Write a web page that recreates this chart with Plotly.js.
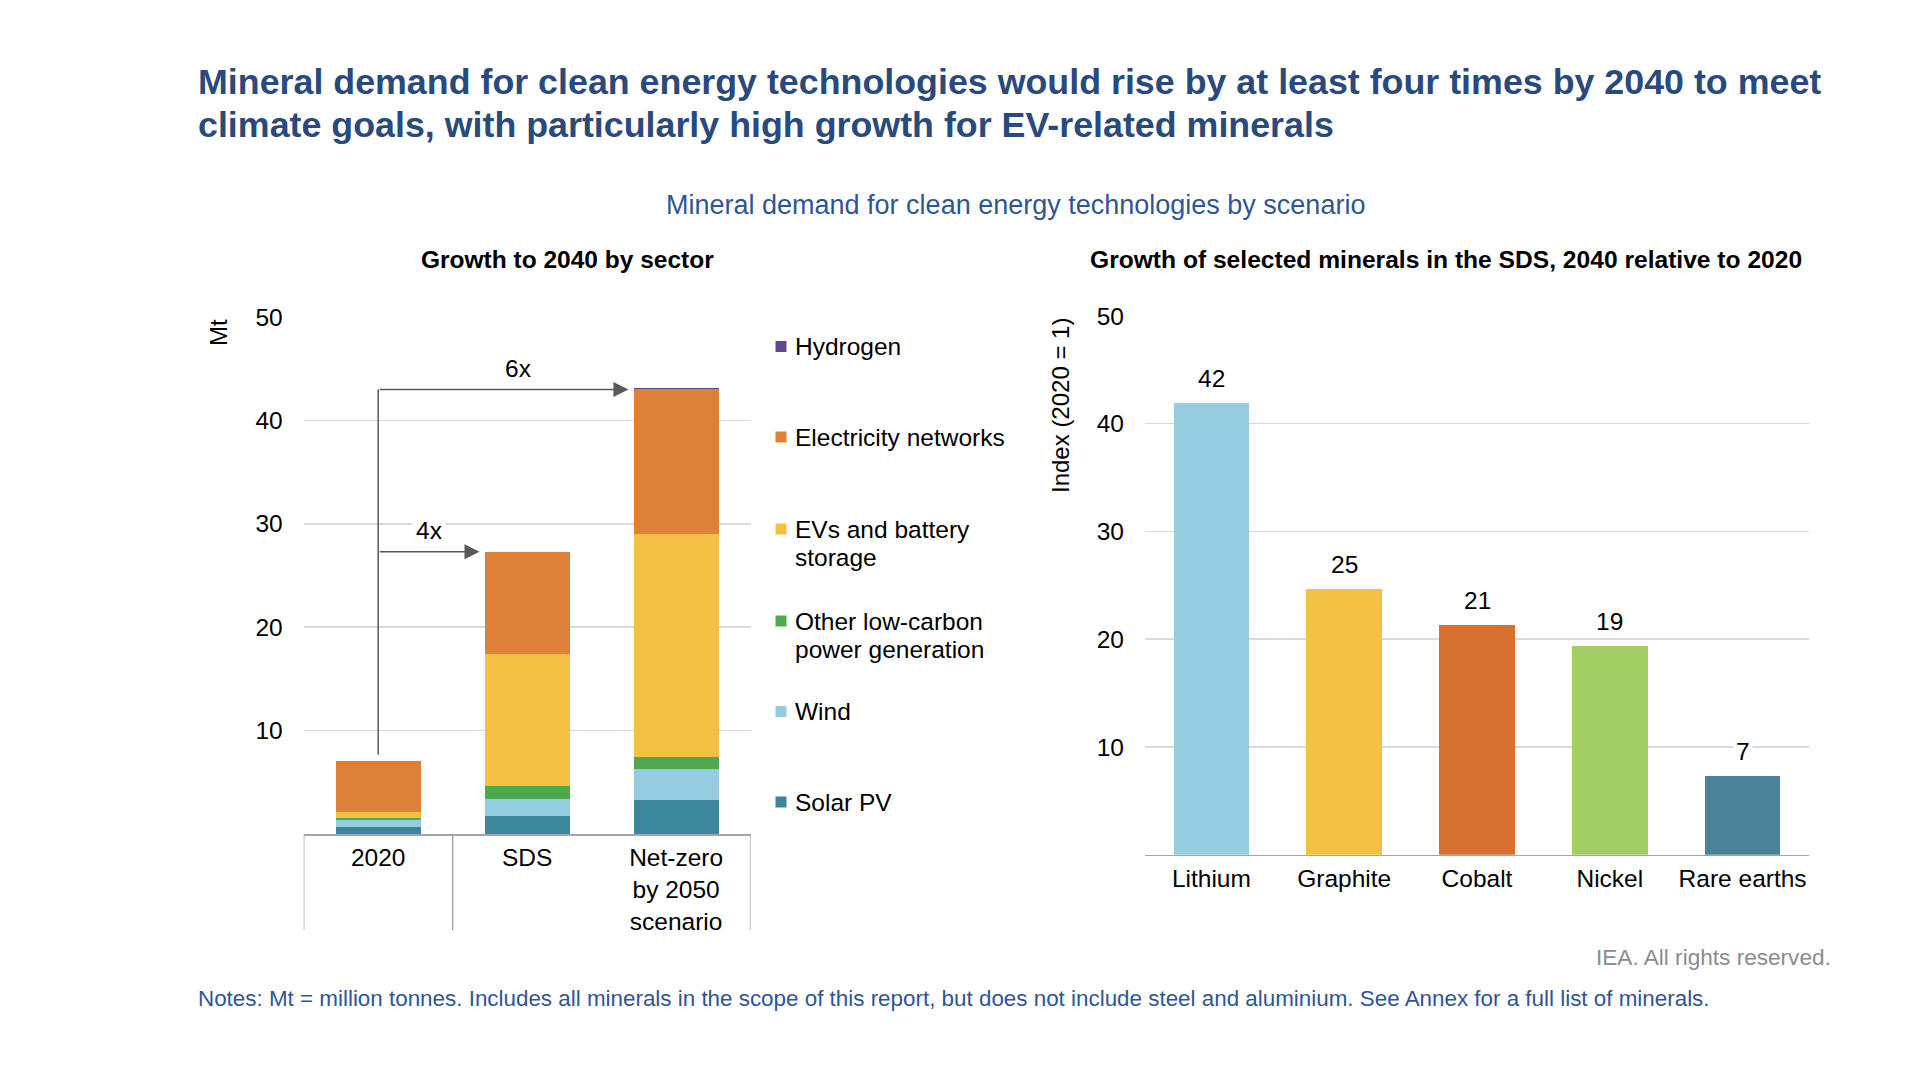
<!DOCTYPE html>
<html>
<head>
<meta charset="utf-8">
<script src="https://cdn.plot.ly/plotly-3.0.1.min.js"></script>
<style>html,body{margin:0;padding:0;background:#fff;}#chart{width:1920px;height:1080px;}</style>
</head>
<body>
<div id="chart"></div>
<script>
// ---------- DATA ----------
const categories = ['2020', 'SDS', 'Net-zero<br>by 2050<br>scenario'];
const solarPV = [0.63, 1.75, 3.3];
const wind = [0.7, 1.65, 2.95];
const otherLowCarbon = [0.25, 1.25, 1.2];
const evsBattery = [0.5, 12.75, 21.55];
const electricityNetworks = [4.97, 9.9, 14.0];
const hydrogen = [0, 0.02, 0.15];

const minerals = ['Lithium', 'Graphite', 'Cobalt', 'Nickel', 'Rare earths'];
const mineralIndex = [41.9, 24.7, 21.3, 19.4, 7.3];

const yTicks = [10, 20, 30, 40, 50];

// ---------- STYLE ----------
const FONT = 'Liberation Sans, Arial, Helvetica, sans-serif';
const W = 1920, H = 1080;
const px = x => x / W;
const py = y => 1 - y / H;
const BAR_W = 0.57;

const sectorSeries = [
  {name: 'Solar PV', y: solarPV, color: '#3B869B'},
  {name: 'Wind', y: wind, color: '#95CDE0'},
  {name: 'Other low-carbon<br>power generation', y: otherLowCarbon, color: '#4DA84E'},
  {name: 'EVs and battery<br>storage', y: evsBattery, color: '#F3C043'},
  {name: 'Electricity networks', y: electricityNetworks, color: '#DD8038'},
  {name: 'Hydrogen', y: hydrogen, color: '#5E4A8A'}
];
const mineralColors = ['#95CCE0', '#F3C244', '#D6712F', '#A1CF64', '#4A8298'];

const traces = sectorSeries.map(s => ({
  type: 'bar', x: categories, y: s.y, name: s.name.replace('<br>', ' '),
  marker: {color: s.color, line: {width: 0}}, width: BAR_W,
  xaxis: 'x', yaxis: 'y', showlegend: false, hoverinfo: 'skip'
}));
traces.push({
  type: 'bar', x: minerals, y: mineralIndex, marker: {color: mineralColors, line: {width: 0}},
  width: BAR_W, xaxis: 'x2', yaxis: 'y2', showlegend: false, hoverinfo: 'skip'
});

const totals = categories.map((c, i) => sectorSeries.reduce((a, s) => a + s.y[i], 0));

const annotations = [];
const shapes = [];

// Title (two lines)
const titleLines = [
  'Mineral demand for clean energy technologies would rise by at least four times by 2040 to meet',
  'climate goals, with particularly high growth for EV-related minerals'
];
titleLines.forEach((t, j) => {
  annotations.push({
    xref: 'paper', yref: 'paper', x: px(196), y: py(82 + 43 * j), xanchor: 'left', yanchor: 'middle', align: 'left',
    showarrow: false, text: '<b>' + t + '</b>',
    font: {family: FONT, size: 35.8, color: '#2A4A7E'}
  });
});
annotations.push({
  xref: 'paper', yref: 'paper', x: px(1015), y: py(204.5), xanchor: 'center', yanchor: 'middle',
  showarrow: false, text: 'Mineral demand for clean energy technologies by scenario',
  font: {family: FONT, size: 27, color: '#2F5596'}
});
annotations.push({
  xref: 'paper', yref: 'paper', x: px(567), y: py(259.6), xanchor: 'center', yanchor: 'middle',
  showarrow: false, text: '<b>Growth to 2040 by sector</b>', font: {family: FONT, size: 24.5, color: '#000'}
});
annotations.push({
  xref: 'paper', yref: 'paper', x: px(1446), y: py(259.6), xanchor: 'center', yanchor: 'middle',
  showarrow: false, text: '<b>Growth of selected minerals in the SDS, 2040 relative to 2020</b>',
  font: {family: FONT, size: 24.6, color: '#000'}
});
// Axis titles
annotations.push({
  xref: 'paper', yref: 'paper', x: px(218), y: py(333), xanchor: 'center', yanchor: 'middle',
  showarrow: false, textangle: -90, text: 'Mt', font: {family: FONT, size: 24, color: '#000'}
});
annotations.push({
  xref: 'paper', yref: 'paper', x: px(1060), y: py(406), xanchor: 'center', yanchor: 'middle',
  showarrow: false, textangle: -90, text: 'Index (2020 = 1)', font: {family: FONT, size: 24, color: '#000'}
});
// Footer
annotations.push({
  xref: 'paper', yref: 'paper', x: px(1833), y: py(957.5), xanchor: 'right', yanchor: 'middle',
  showarrow: false, text: 'IEA. All rights reserved.', font: {family: FONT, size: 22.6, color: '#8C8C8C'}
});
annotations.push({
  xref: 'paper', yref: 'paper', x: px(196), y: py(998), xanchor: 'left', yanchor: 'middle',
  showarrow: false,
  text: 'Notes: Mt = million tonnes. Includes all minerals in the scope of this report, but does not include steel and aluminium. See Annex for a full list of minerals.',
  font: {family: FONT, size: 22.4, color: '#2F5596'}
});

// Legend (top to bottom)
const legendRows = [346.5, 437, 529, 621, 711.5, 802];
const legendOrder = sectorSeries.slice().reverse();
legendOrder.forEach((s, k) => {
  const yc = legendRows[k];
  shapes.push({
    type: 'rect', xref: 'paper', yref: 'paper', x0: px(775.5), x1: px(786.5), y0: py(yc + 5.5), y1: py(yc - 5.5),
    fillcolor: s.color, line: {width: 0}
  });
  s.name.split('<br>').forEach((line, j) => {
    annotations.push({
      xref: 'paper', yref: 'paper', x: px(793), y: py(yc + 28 * j), xanchor: 'left', yanchor: 'middle',
      showarrow: false, text: line, font: {family: FONT, size: 24.5, color: '#000'}
    });
  });
});

// Growth arrows
const ARROW = '#595959';
shapes.push({
  type: 'line', xref: 'x', yref: 'y', x0: 0, x1: 0, y0: totals[0] + 0.65, y1: totals[2] - hydrogen[2],
  line: {color: ARROW, width: 1.5}
});
[1, 2].forEach(i => {
  const yv = totals[i] - hydrogen[i];
  const tip = i - BAR_W / 2 - 0.035;
  annotations.push({
    xref: 'x', yref: 'y', axref: 'x', ayref: 'y', x: tip, y: yv, ax: 0, ay: yv,
    showarrow: true, arrowhead: 2, arrowsize: 2, arrowwidth: 1.5, arrowcolor: ARROW, text: ''
  });
  annotations.push({
    xref: 'x', yref: 'y', x: tip / 2 + (i === 2 ? 0.1 : 0), y: yv, yshift: 21, xanchor: 'center', yanchor: 'middle',
    showarrow: false, text: Math.round(totals[i] / totals[0]) + 'x', bgcolor: '#fff', borderpad: 3,
    font: {family: FONT, size: 24.5, color: '#000'}
  });
});

// Category separators below left axis
[-0.5, 0.5, 2.5].forEach(xv => {
  shapes.push({
    type: 'line', xref: 'x', yref: 'paper', x0: xv, x1: xv, y0: py(834), y1: py(930),
    line: {color: '#A6A6A6', width: 1.5}
  });
});

// Value labels right chart
minerals.forEach((m, i) => {
  annotations.push({
    xref: 'x2', yref: 'y2', x: m, y: mineralIndex[i], yanchor: 'bottom', yshift: 8,
    showarrow: false, text: String(Math.round(mineralIndex[i])), bgcolor: '#fff', borderpad: 2,
    font: {family: FONT, size: 24.5, color: '#000'}
  });
});

const yAxisCommon = {
  range: [0, 50], tickvals: yTicks, showgrid: true, gridcolor: '#D9D9D9', gridwidth: 1.5,
  zeroline: false, showline: false, ticks: '', ticklabelstandoff: 20,
  tickfont: {family: FONT, size: 24.5, color: '#000'}, fixedrange: true
};
const xAxisCommon = {
  type: 'category', showgrid: false, zeroline: false, showline: true, linecolor: '#A6A6A6', linewidth: 1.5,
  ticks: '', ticklabelstandoff: 1, tickfont: {family: FONT, size: 24.5, color: '#000'}, fixedrange: true
};

const layout = {
  width: W, height: H, margin: {l: 0, r: 0, t: 0, b: 0},
  paper_bgcolor: '#fff', plot_bgcolor: 'rgba(0,0,0,0)',
  barmode: 'stack', showlegend: false, font: {family: FONT},
  xaxis: Object.assign({}, xAxisCommon, {domain: [px(303.7), px(750.6)], range: [-0.5, 2.5], anchor: 'y'}),
  yaxis: Object.assign({}, yAxisCommon, {domain: [py(834), py(317)], anchor: 'x'}),
  xaxis2: Object.assign({}, xAxisCommon, {domain: [px(1145), px(1809)], range: [-0.5, 4.5], anchor: 'y2'}),
  yaxis2: Object.assign({}, yAxisCommon, {domain: [py(854.7), py(316)], anchor: 'x2'}),
  annotations: annotations, shapes: shapes
};

Plotly.newPlot('chart', traces, layout, {displayModeBar: false, staticPlot: true});
</script>
</body>
</html>
